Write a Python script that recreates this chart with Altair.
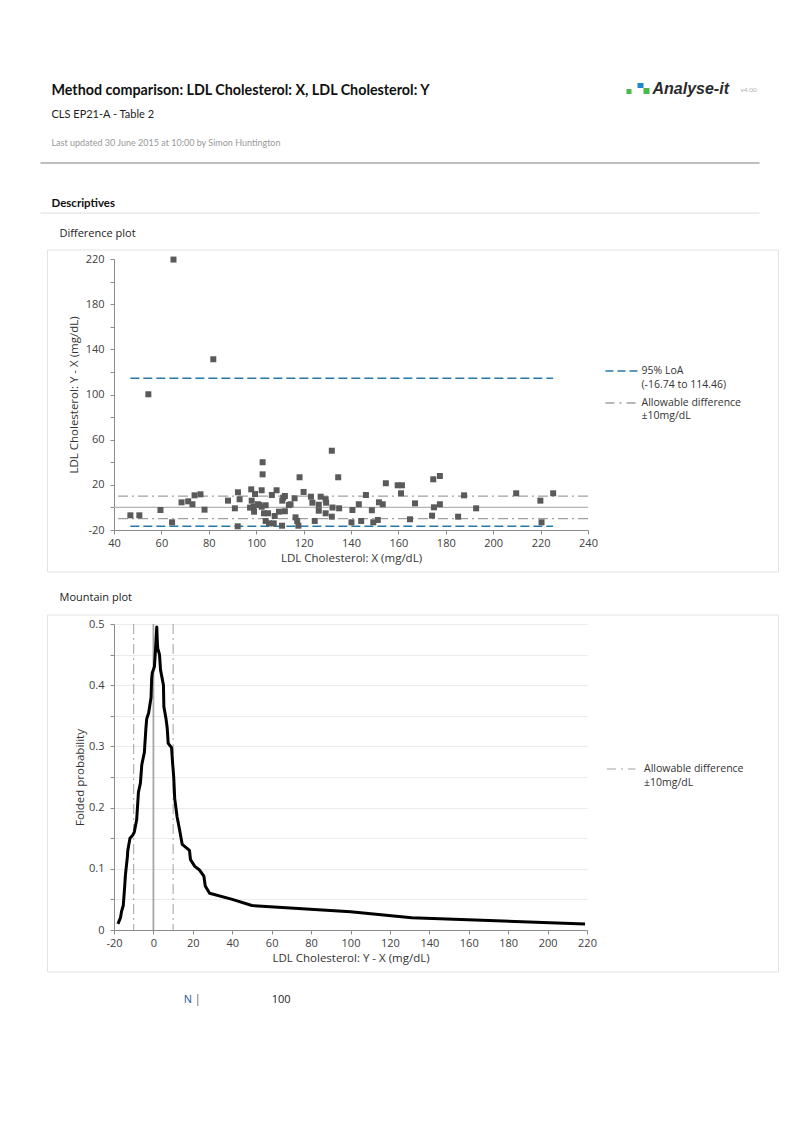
import altair as alt
import pandas as pd

# ---------------- data ----------------
diff_x = [65.1, 81.9, 54.5, 131.9,
          46.9, 50.7, 59.6, 64.5, 68.5, 71.3, 73.1, 74.0, 76.5, 78.2, 88.1, 91.0, 92.3, 93.0, 92.2, 97.4,
          97.9, 98.1, 99.1, 99.5,
          98.9, 100.7, 101.4, 102.7, 102.7, 102.3, 102.3, 103.3, 104.0, 104.0, 105.0, 105.4, 106.6, 107.4,
          107.8, 108.6, 109.6, 111.0, 111.4, 112.1, 110.9, 112.1, 113.8, 114.5, 116.2, 116.6, 117.3, 117.8,
          118.3, 120.0, 123.1, 123.7, 124.7, 126.4, 126.4, 127.2, 129.3, 129.5, 129.3, 132.2, 131.9, 134.6,
          135.0, 140.6, 140.2, 143.3, 144.3, 146.3, 148.8, 149.4, 151.3, 151.8, 153.4, 154.7,
          159.7, 161.5, 161.1, 167.0, 164.9, 174.7, 177.5, 175.0, 177.5, 174.2, 185.2, 187.7, 192.8, 209.7,
          219.9, 220.4, 225.3]
diff_y = [219.5, 131.2, 100.2, 50.2,
          -7.0, -7.0, -2.3, -13.2, 4.5, 5.4, 2.8, 10.7, 11.6, -2.0, 6.0, -0.8, 13.4, 7.2, -16.7, -0.2,
          16.0, 6.0, -3.8, 11.9,
          0.7, 2.8, 2.1, 40.0, 29.3, 15.2, 0.6, -5.2, 1.9, -12.0, -5.2, -14.1, 11.0, -14.1,
          -7.6, 15.2, -3.8, 6.0, 8.6, 10.1, -16.2, -3.4, 2.1, 2.8, 8.1, -8.8, -12.0, -16.2,
          26.7, 13.7, 9.5, 4.2, -12.0, 2.4, -2.9, 9.5, 7.2, 4.2, -5.2, -0.1, -8.2, 26.7,
          -0.8, -2.3, -13.2, 2.8, -12.0, 11.0, -2.5, -13.2, -11.1, 4.5, 2.8, 21.4,
          19.6, 19.6, 12.5, 3.6, -10.5, 24.9, 27.8, 0.1, 2.8, -7.3, -8.2, 10.7, -0.8, 12.5,
          6.0, -13.2, 12.5]
loa_values = [-16.74, 114.46]
allowable = [-10, 10]

mount_x = [-18.0, -16.7, -16.2, -15.3, -14.6, -14.2, -13.2, -13.0, -11.9, -10.5, -9.7, -8.5, -7.6, -6.6,
           -5.9, -4.6, -3.8, -3.4, -2.4, -1.2, -0.9, -0.6, 0.5, 1.0, 1.7, 2.0, 2.2, 3.1, 3.6, 5.1, 5.3,
           6.4, 7.0, 7.5, 9.2, 9.8, 10.3, 10.8, 12.0, 13.2, 14.6, 18.3, 18.8, 21.0, 23.4, 25.6, 26.3,
           28.5, 40.0, 50.0, 100.0, 131.0, 219.0]
mount_p = [0.01, 0.02, 0.03, 0.04, 0.07, 0.09, 0.12, 0.13, 0.15, 0.155, 0.16, 0.18, 0.225, 0.24,
           0.27, 0.29, 0.33, 0.345, 0.355, 0.38, 0.41, 0.42, 0.43, 0.455, 0.495, 0.47, 0.46, 0.45, 0.425,
           0.40, 0.365, 0.345, 0.33, 0.305, 0.298, 0.27, 0.25, 0.215, 0.185, 0.165, 0.14, 0.13, 0.115,
           0.104, 0.098, 0.088, 0.072, 0.06, 0.05, 0.04, 0.03, 0.02, 0.01]

n_value = "100"

FONT = "Open Sans"
HFONT = "Lato"
BLUE = "#2479a9"
GRAY = "#a0a0a0"
DASHDOT = [10, 4, 2, 4]

one = pd.DataFrame({"k": [0]})


def txt(x, y, s, size=11, font=FONT, weight="normal", color="#333333", align="left", style="normal"):
    return alt.Chart(one).mark_text(
        text=s, fontSize=size, font=font, fontWeight=weight, color=color,
        align=align, baseline="middle", fontStyle=style
    ).encode(x=alt.value(x), y=alt.value(y))


def hrule(x1, x2, y, color, width=1.0, dash=None):
    kw = dict(color=color, strokeWidth=width)
    if dash is not None:
        kw["strokeDash"] = dash
    return alt.Chart(one).mark_rule(**kw).encode(x=alt.value(x1), x2=alt.value(x2), y=alt.value(y))


def vrule(x, y1, y2, color, width=1.0):
    return alt.Chart(one).mark_rule(color=color, strokeWidth=width).encode(
        x=alt.value(x), y=alt.value(y1), y2=alt.value(y2))


def box(x1, x2, y1, y2, stroke="#e3e3e3", stroke_opacity=1.0):
    return alt.Chart(one).mark_rect(fill="white", fillOpacity=0, stroke=stroke,
                                    strokeWidth=1, strokeOpacity=stroke_opacity).encode(
        x=alt.value(x1), x2=alt.value(x2), y=alt.value(y1), y2=alt.value(y2))


def square(x1, x2, y1, y2, color):
    return alt.Chart(one).mark_rect(color=color).encode(
        x=alt.value(x1), x2=alt.value(x2), y=alt.value(y1), y2=alt.value(y2))


# both plot areas share the same left origin (page x = 113.5)
LEFT = -105.5

# ---------------- difference plot ----------------
W1, H1 = 474, 271
pts = pd.DataFrame({"x": diff_x, "d": diff_y})
xs1 = alt.Scale(domain=[40, 240], nice=False, zero=False)
ys1 = alt.Scale(domain=[-20, 220], nice=False, zero=False)

x_axis1 = alt.Axis(values=list(range(40, 241, 20)), labelExpr="toString(datum.value)", labelFlush=False,
                   title="LDL Cholesterol: X (mg/dL)", grid=False, labelPadding=3, titlePadding=4)
y_axis1 = alt.Axis(values=list(range(-20, 221, 20)), labelFlush=False,
                   labelExpr="(datum.value + 20) % 40 == 0 ? toString(datum.value) : ''",
                   title="LDL Cholesterol: Y - X (mg/dL)", grid=False, labelPadding=6, titlePadding=6)

bound1 = box(LEFT, 671, -251, 316, stroke="white", stroke_opacity=0)
frame1 = box(-66.5, 664.5, -9, 313)

allow_df = pd.DataFrame({"v": allowable})
allow1 = alt.Chart(allow_df).mark_rule(color=GRAY, strokeWidth=1.3, strokeDash=DASHDOT).encode(
    y=alt.Y("v:Q", scale=ys1, axis=y_axis1))
zero1 = alt.Chart(pd.DataFrame({"v": [0]})).mark_rule(color="#b4b4b4", strokeWidth=1.2).encode(
    y=alt.Y("v:Q", scale=ys1, axis=y_axis1))
loa_df = pd.DataFrame({"v": loa_values, "x1": [min(diff_x)] * 2, "x2": [max(diff_x)] * 2})
loa1 = alt.Chart(loa_df).mark_rule(color=BLUE, strokeWidth=1.5, strokeDash=[9, 4]).encode(
    x=alt.X("x1:Q", scale=xs1, axis=x_axis1), x2="x2:Q", y=alt.Y("v:Q", scale=ys1, axis=y_axis1))

points = alt.Chart(pts).mark_square(size=36, color="#5a5a5a", opacity=1).encode(
    x=alt.X("x:Q", scale=xs1, axis=x_axis1),
    y=alt.Y("d:Q", scale=ys1, axis=y_axis1))

header = [
    txt(-62.5, -168, "Method comparison: LDL Cholesterol: X, LDL Cholesterol: Y", size=14.3, font=HFONT,
        weight="bold", color="#111111"),
    square(512.5, 517.5, -170, -165, "#4cb848"),
    square(523.5, 529.5, -176, -171, "#1e88cf"),
    square(529.5, 535.5, -171, -165, "#4cb848"),
    txt(538.5, -170, "Analyse-it", size=16, font="Liberation Sans", weight="bold", style="italic",
        color="#2b2b2b"),
    txt(626.5, -169, "v4.00", size=6.5, font=HFONT, color="#b0b0b0"),
    txt(-62.5, -144, "CLS EP21-A - Table 2", size=11, font=HFONT, color="#222222"),
    txt(-62.5, -116, "Last updated 30 June 2015 at 10:00 by Simon Huntington", size=9, font=HFONT,
        color="#999999"),
    hrule(-73.5, 645.5, -96, "#bdbdbd", width=2.2),
    txt(-62.5, -55, "Descriptives", size=11.5, font=HFONT, weight="bold", color="#111111"),
    hrule(-73.5, 645.5, -46, "#dcdcdc", width=1),
    txt(-54.5, -25, "Difference plot", size=11, color="#222222"),
]

legend1 = [
    hrule(491.5, 524.5, 112, BLUE, width=1.5, dash=[8, 4]),
    txt(527.5, 112, "95% LoA", size=10.5, color="#333333"),
    txt(527.5, 126, "(-16.74 to 114.46)", size=10.5, color="#333333"),
    hrule(491.5, 521.5, 144, GRAY, width=1.3, dash=[9, 5, 2, 5]),
    txt(527.5, 144, "Allowable difference", size=10.5, color="#333333"),
    txt(527.5, 157, "±10mg/dL", size=10.5, color="#333333"),
]

chart1 = alt.layer(bound1, frame1, *header, zero1, allow1, loa1, points, *legend1).properties(
    width=W1, height=H1)

# ---------------- mountain plot ----------------
W2, H2 = 473, 306
mdf = pd.DataFrame({"x": mount_x, "p": mount_p, "i": list(range(len(mount_x)))})
xs2 = alt.Scale(domain=[-20, 220], nice=False, zero=False)
ys2 = alt.Scale(domain=[0, 0.5], nice=False, zero=False)
x_axis2 = alt.Axis(values=list(range(-20, 221, 20)), labelExpr="toString(datum.value)", labelFlush=False,
                   title="LDL Cholesterol: Y - X (mg/dL)", grid=False, labelPadding=3, titlePadding=4)
y_axis2 = alt.Axis(values=[round(i * 0.05, 2) for i in range(11)], labelFlush=False,
                   labelExpr="round(datum.value * 100) % 10 == 0 ? format(datum.value, '~g') : ''",
                   title="Folded probability", grid=True, gridColor="#ebebeb", gridWidth=1,
                   labelPadding=6, titlePadding=3)

bound2 = box(LEFT, 670, -49, 392, stroke="white", stroke_opacity=0)
frame2 = box(-66.5, 664.5, -9, 348)

vallow = alt.Chart(allow_df).mark_rule(color=GRAY, strokeWidth=1, strokeDash=DASHDOT).encode(
    x=alt.X("v:Q", scale=xs2, axis=x_axis2))
vzero = alt.Chart(pd.DataFrame({"v": [0]})).mark_rule(color="#a6a6a6", strokeWidth=1.8).encode(
    x=alt.X("v:Q", scale=xs2, axis=x_axis2))
mline = alt.Chart(mdf).mark_line(color="black", strokeWidth=3, strokeJoin="round").encode(
    x=alt.X("x:Q", scale=xs2, axis=x_axis2),
    y=alt.Y("p:Q", scale=ys2, axis=y_axis2),
    order="i:Q")

extras2 = [
    txt(-54.5, -26, "Mountain plot", size=11, color="#222222"),
    hrule(493, 521.5, 145, GRAY, width=1, dash=[9, 5, 2, 5]),
    txt(530, 145, "Allowable difference", size=10.5, color="#333333"),
    txt(530, 159, "±10mg/dL", size=10.5, color="#333333"),
    txt(73.8, 376, "N", size=11, color="#2f56a0", align="center"),
    vrule(83.8, 370, 382, "#7f7f7f", width=1),
    txt(167.2, 376, n_value, size=11, color="#222222", align="center"),
]

chart2 = alt.layer(bound2, frame2, vallow, vzero, mline, *extras2).properties(width=W2, height=H2)

chart = alt.vconcat(chart1, chart2, spacing=0).properties(
    padding=0, background="white"
).configure_view(strokeWidth=0).configure_axis(
    domainColor="#8c8c8c", tickColor="#8c8c8c", tickSize=4,
    labelColor="#404040", labelFont=FONT, labelFontSize=11,
    titleFont=FONT, titleFontSize=11.5, titleFontWeight="normal", titleColor="#333333"
)

chart.save("out.html", embed_options={"renderer": "svg", "actions": False})
